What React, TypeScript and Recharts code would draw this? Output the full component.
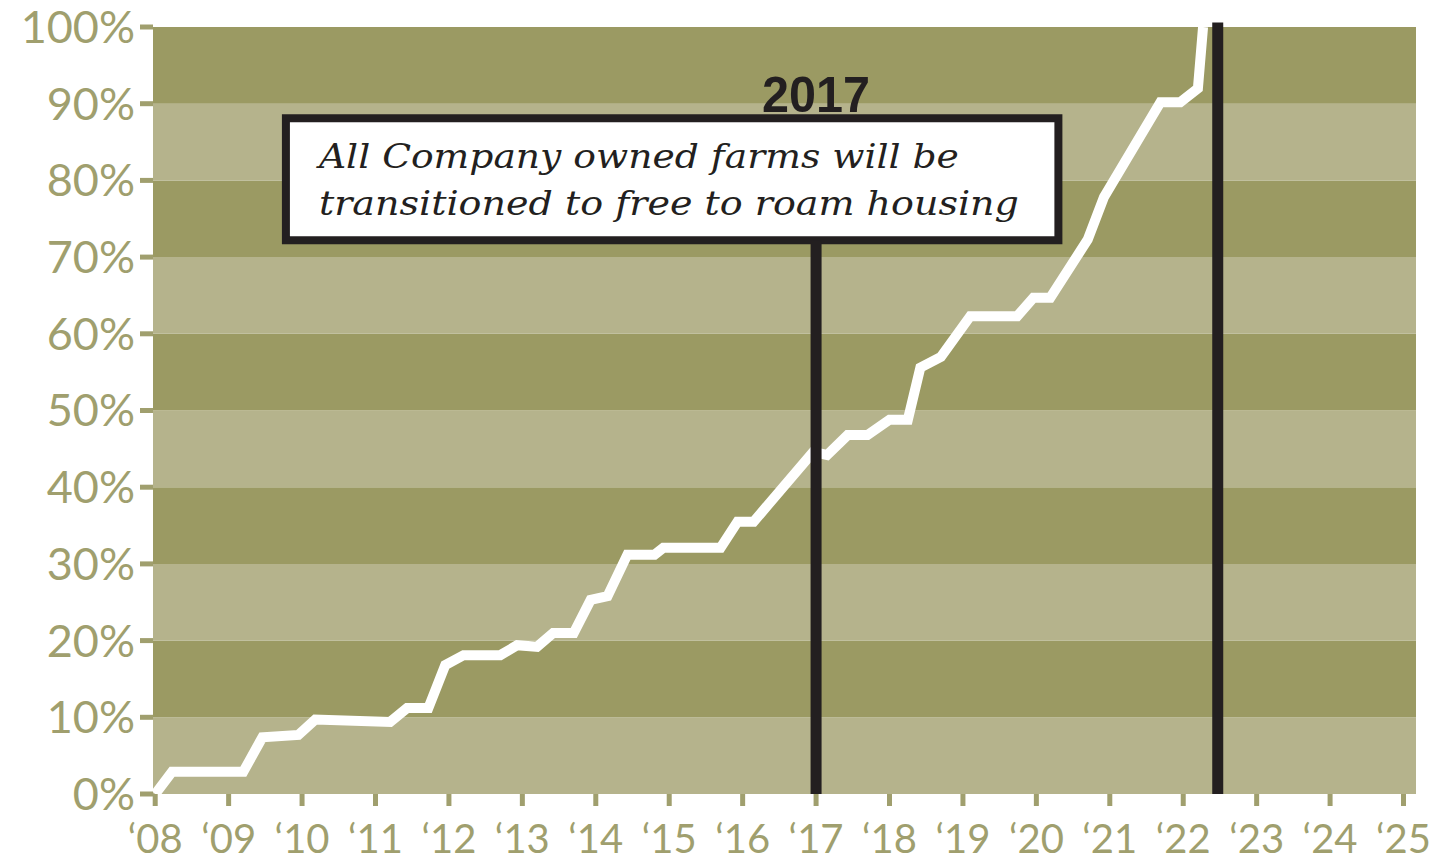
import React from "react";
import {
  ComposedChart,
  Line,
  XAxis,
  YAxis,
  ReferenceArea,
  ReferenceLine,
  ReferenceDot,
} from "recharts";

// share of company-owned farms on free to roam housing
const years = [
  8.0, 8.23, 9.2, 9.46, 9.95, 10.18, 11.2, 11.43, 11.72, 11.95, 12.2, 12.7, 12.93, 13.2,
  13.42, 13.7, 13.93, 14.16, 14.43, 14.8, 14.92, 15.7, 15.93, 16.15, 16.96, 17.15, 17.43,
  17.7, 18.0, 18.25, 18.42, 18.7, 19.1, 19.74, 19.96, 20.19, 20.7, 20.92, 21.69, 21.96,
  22.2, 22.27,
];
const shares = [
  0, 2.9, 2.9, 7.4, 7.7, 9.7, 9.4, 11.2, 11.2, 16.8, 18.1, 18.1, 19.4, 19.2, 21.0, 21.0,
  25.3, 25.8, 31.2, 31.2, 32.1, 32.1, 35.5, 35.5, 44.6, 44.2, 46.8, 46.8, 48.8, 48.8, 55.6,
  57.0, 62.3, 62.3, 64.7, 64.7, 72.3, 77.8, 90.2, 90.2, 92.0, 100,
];

const xTicks = [8, 9, 10, 11, 12, 13, 14, 15, 16, 17, 18, 19, 20, 21, 22, 23, 24, 25];
const yTicks = [0, 10, 20, 30, 40, 50, 60, 70, 80, 90, 100];
const bandStarts = [0, 10, 20, 30, 40, 50, 60, 70, 80, 90];

const targetYear = 17;
const deadlineYear = 22.47;
const noteLines = ["All Company owned farms will be", "transitioned to free to roam housing"];

const data = years.map((year, i) => ({ year, share: shares[i] }));

const OLIVE_DARK = "#9b9a63";
const OLIVE_LIGHT = "#b5b38c";
const TEXT = "#a09f6e";
const INK = "#231f20";

const NoteText = (props: any) => {
  const vb = props.viewBox || {};
  return (
    <g>
      <text
        x={vb.x + 33}
        y={vb.y + 50}
        fontFamily="'DejaVu Serif', serif"
        fontStyle="italic"
        fontSize={34}
        fill={INK}
        textLength={640}
        lengthAdjust="spacingAndGlyphs"
      >
        {noteLines[0]}
      </text>
      <text
        x={vb.x + 33}
        y={vb.y + 97}
        fontFamily="'DejaVu Serif', serif"
        fontStyle="italic"
        fontSize={34}
        fill={INK}
        textLength={700}
        lengthAdjust="spacingAndGlyphs"
      >
        {noteLines[1]}
      </text>
    </g>
  );
};

const YearText = (props: any) => {
  const vb = props.viewBox || {};
  const cx = vb.x + (vb.width || 0) / 2;
  const cy = vb.y + (vb.height || 0) / 2;
  return (
    <text
      x={cx}
      y={cy + 18}
      textAnchor="middle"
      fontFamily="'Liberation Sans Narrow', 'Liberation Sans', sans-serif"
      fontWeight={700}
      fontSize={50}
      fill={INK}
      textLength={108}
      lengthAdjust="spacingAndGlyphs"
    >
      2017
    </text>
  );
};

export default function App() {
  return (
    <div style={{ position: "absolute", left: 0, top: 0, background: "#fff" }}>
      <ComposedChart
        width={1430}
        height={864}
        data={data}
        margin={{ top: 27, right: 14, bottom: 0, left: 0 }}
      >
        <XAxis
          dataKey="year"
          type="number"
          domain={[7.97, 25.17]}
          ticks={xTicks}
          allowDataOverflow
          tickFormatter={(v) => `\u2018${String(v).padStart(2, "0")}`}
          tick={{ fill: TEXT, fontSize: 40, fontFamily: "Lato" }}
          tickLine={{ stroke: TEXT, strokeWidth: 5 }}
          tickSize={12}
          tickMargin={19}
          axisLine={false}
          height={70}
          interval={0}
        />
        <YAxis
          type="number"
          domain={[0, 100]}
          ticks={yTicks}
          allowDataOverflow
          tickFormatter={(v) => `${v}%`}
          tick={{ fill: TEXT, fontSize: 45, fontFamily: "Lato" }}
          tickLine={{ stroke: TEXT, strokeWidth: 5 }}
          tickSize={13}
          tickMargin={5}
          axisLine={false}
          width={153}
          interval={0}
        />
        {bandStarts.map((start, i) => (
          <ReferenceArea
            key={start}
            y1={start}
            y2={start + 10}
            fill={i % 2 === 0 ? OLIVE_LIGHT : OLIVE_DARK}
            fillOpacity={1}
            stroke="none"
          />
        ))}
        <Line
          dataKey="share"
          type="linear"
          stroke="#ffffff"
          strokeWidth={10}
          strokeLinejoin="miter"
          dot={false}
          activeDot={false}
          isAnimationActive={false}
        />
        <ReferenceLine
          segment={[
            { x: targetYear, y: 0 },
            { x: targetYear, y: 72.2 },
          ]}
          stroke={INK}
          strokeWidth={11}
        />
        <ReferenceLine
          segment={[
            { x: deadlineYear, y: 0 },
            { x: deadlineYear, y: 100.6 },
          ]}
          ifOverflow="visible"
          stroke={INK}
          strokeWidth={11}
        />
        <ReferenceArea
          x1={9.78}
          x2={20.3}
          y1={72.2}
          y2={88.1}
          fill="#ffffff"
          fillOpacity={1}
          stroke={INK}
          strokeWidth={8}
          label={(p: any) => <NoteText {...p} />}
        />
        <ReferenceDot
          x={targetYear}
          y={91.3}
          r={1}
          fill="none"
          stroke="none"
          label={(p: any) => <YearText {...p} />}
        />
      </ComposedChart>
    </div>
  );
}
